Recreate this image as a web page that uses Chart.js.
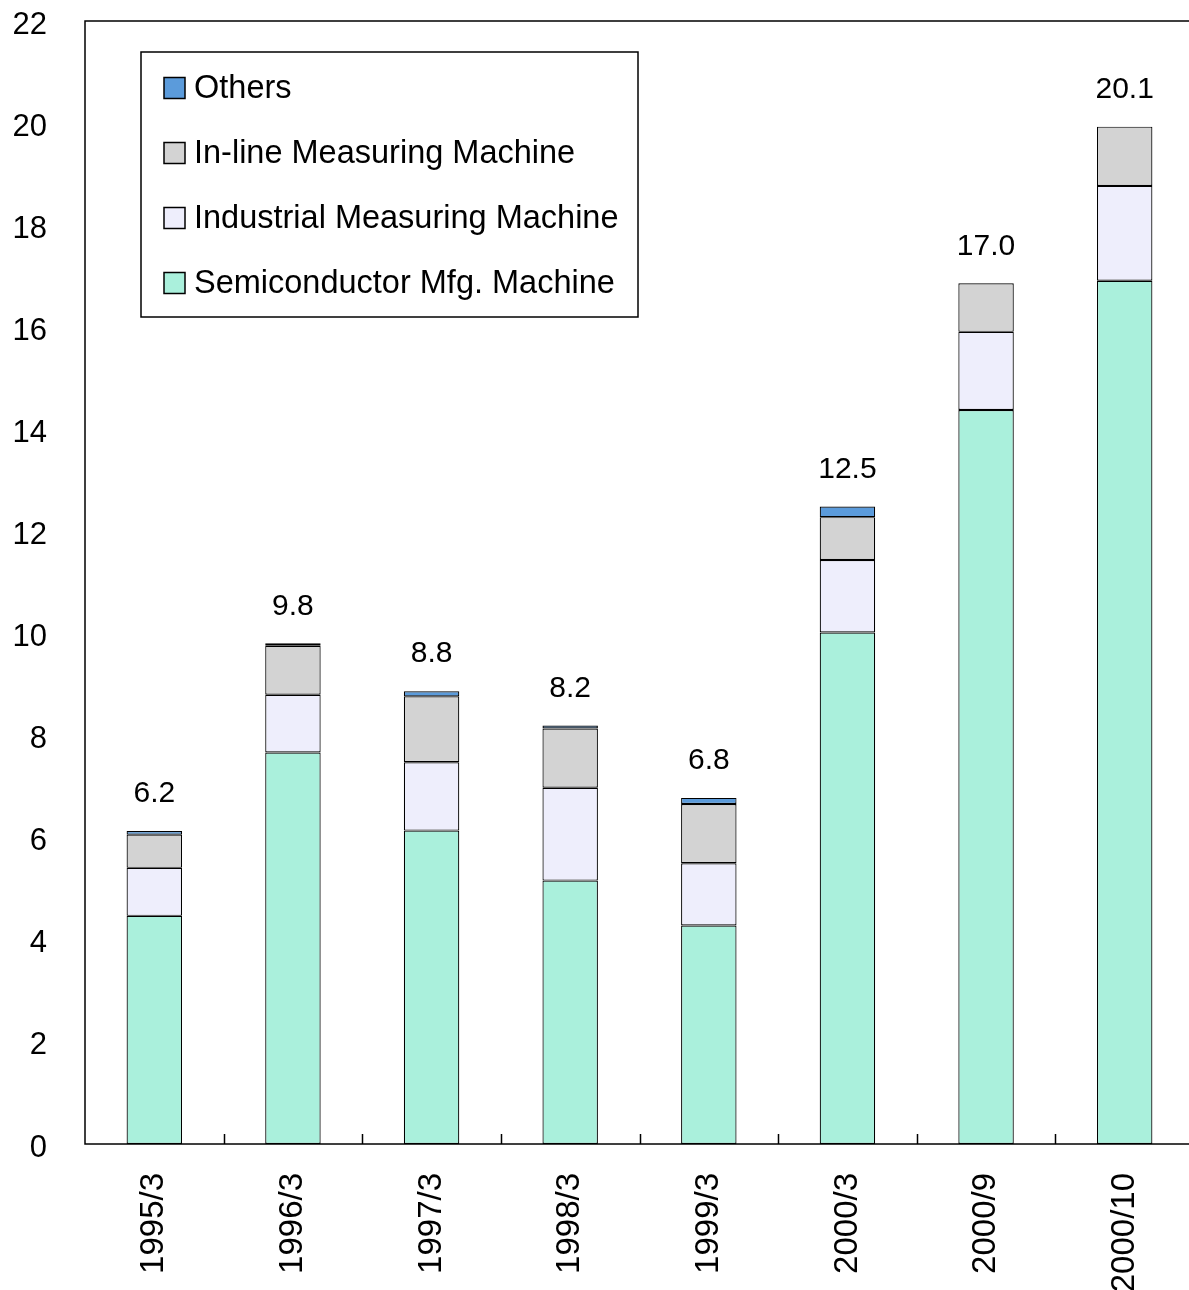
<!DOCTYPE html>
<html>
<head>
<meta charset="utf-8">
<script src="https://cdn.jsdelivr.net/npm/chart.js@4.4.1/dist/chart.umd.min.js"></script>
<style>
  html, body { margin: 0; padding: 0; background: #fff; overflow: hidden; }
  #wrap { position: relative; width: 1200px; height: 1290px; }
</style>
</head>
<body>
<div id="wrap"><canvas id="stackChart"></canvas></div>
<script>
// values
const categories = ['1995/3', '1996/3', '1997/3', '1998/3', '1999/3', '2000/3', '2000/9', '2000/10'];
const semiconductor = [4.47, 7.67, 6.14, 5.16, 4.28, 10.02, 14.38, 16.91];
const industrial = [0.94, 1.13, 1.34, 1.82, 1.22, 1.42, 1.53, 1.86];
const inline = [0.65, 0.96, 1.29, 1.16, 1.16, 0.84, 0.95, 1.16];
const others = [0.07, 0.05, 0.10, 0.06, 0.12, 0.21, 0, 0];
const totalLabels = ['6.2', '9.8', '8.8', '8.2', '6.8', '12.5', '17.0', '20.1'];

const FONT = "'Liberation Sans', Arial, sans-serif";

// frame round the plot area + short inward ticks between categories
const framePlugin = {
  id: 'frame',
  afterDatasetsDraw(chart) {
    const { ctx, chartArea: a, scales: { x } } = chart;
    ctx.save();
    ctx.strokeStyle = '#000';
    ctx.lineWidth = 1.5;
    ctx.strokeRect(a.left, a.top, a.right - a.left, a.bottom - a.top);
    ctx.beginPath();
    for (let i = 1; i < categories.length; i++) {
      const px = Math.round(x.getPixelForValue(i - 0.5)) + 0.5;
      ctx.moveTo(px, a.bottom);
      ctx.lineTo(px, a.bottom - 10);
    }
    ctx.stroke();
    ctx.restore();
  }
};

// total above each stack
const totalsPlugin = {
  id: 'totals',
  afterDatasetsDraw(chart) {
    const { ctx } = chart;
    const meta = chart.getDatasetMeta(chart.data.datasets.length - 1);
    ctx.save();
    ctx.fillStyle = '#000';
    ctx.font = '30px ' + FONT;
    ctx.textAlign = 'center';
    ctx.textBaseline = 'middle';
    meta.data.forEach((bar, i) => {
      ctx.fillText(totalLabels[i], bar.x, bar.y - 37);
    });
    ctx.restore();
  }
};

// boxed legend inside the plot, top series first
const legendBoxPlugin = {
  id: 'legendBox',
  afterDraw(chart) {
    const { ctx, chartArea: a } = chart;
    const bx = a.left + 56, by = a.top + 31, bw = 497, bh = 265;
    ctx.save();
    ctx.fillStyle = '#fff';
    ctx.fillRect(bx, by, bw, bh);
    ctx.strokeStyle = '#000';
    ctx.lineWidth = 1.5;
    ctx.strokeRect(bx, by, bw, bh);
    ctx.font = '32.5px ' + FONT;
    ctx.textBaseline = 'middle';
    const sets = chart.data.datasets.slice().reverse();
    sets.forEach((ds, i) => {
      const cy = by + 36 + i * 65;
      ctx.fillStyle = ds.backgroundColor;
      ctx.fillRect(bx + 23, cy - 10.5, 21, 21);
      ctx.strokeRect(bx + 23, cy - 10.5, 21, 21);
      ctx.fillStyle = '#000';
      ctx.fillText(ds.label, bx + 53, cy + 1);
    });
    ctx.restore();
  }
};

const barStyle = {
  borderColor: '#000',
  borderWidth: 1.2,
  borderSkipped: false,
  categoryPercentage: 1,
  barPercentage: 0.4
};

new Chart(document.getElementById('stackChart'), {
  type: 'bar',
  data: {
    labels: categories,
    datasets: [
      { label: 'Semiconductor Mfg. Machine', data: semiconductor, backgroundColor: '#aaf0dc', ...barStyle },
      { label: 'Industrial Measuring Machine', data: industrial, backgroundColor: '#eeeefc', ...barStyle },
      { label: 'In-line Measuring Machine', data: inline, backgroundColor: '#d3d3d3', ...barStyle },
      { label: 'Others', data: others, backgroundColor: '#5b9bdb', ...barStyle }
    ]
  },
  options: {
    responsive: true,
    maintainAspectRatio: false,
    animation: false,
    layout: { padding: { left: 12, top: 21, right: 6, bottom: 0 } },
    plugins: {
      legend: { display: false },
      tooltip: { enabled: false }
    },
    scales: {
      x: {
        stacked: true,
        grid: { display: false },
        border: { display: false },
        ticks: {
          color: '#000',
          font: { family: FONT, size: 33 },
          minRotation: 90,
          maxRotation: 90,
          autoSkip: false,
          padding: 21
        },
        afterFit(scale) { scale.height = 146; }
      },
      y: {
        stacked: true,
        min: 0,
        max: 22,
        grid: { display: false, drawTicks: false },
        border: { display: false },
        ticks: {
          stepSize: 2,
          color: '#000',
          font: { family: FONT, size: 31 },
          padding: 38,
          labelOffset: 4
        },
        afterFit(scale) {
          scale.width = 73;
          scale.paddingTop = 0;
          scale.paddingBottom = 0;
        }
      }
    }
  },
  plugins: [framePlugin, totalsPlugin, legendBoxPlugin]
});
</script>
</body>
</html>
